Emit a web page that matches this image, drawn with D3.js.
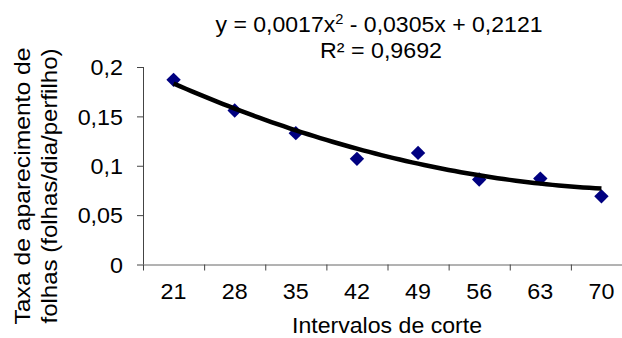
<!DOCTYPE html>
<html>
<head>
<meta charset="utf-8">
<script src="https://cdn.jsdelivr.net/npm/d3@7"></script>
<style>
    body { margin: 0; background: #fff; }
    text { font-family: "Liberation Sans", Arial, sans-serif; fill: #000; }
</style>
</head>
<body>
<div id="chart"></div>
<script>
// data
var intervals = ["21", "28", "35", "42", "49", "56", "63", "70"];
var rates = [0.187, 0.156, 0.133, 0.107, 0.113, 0.086, 0.087, 0.069];
// trendline y = c0 + c1*x + c2*x^2 (x = 1..8), as printed on the chart
var trendCoef = [0.2121, -0.0305, 0.0017];
var yTicks = [0, 0.05, 0.1, 0.15, 0.2];

var pwidth = 622;
var pheight = 338;
var plotLeft = 143, plotRight = 632, plotTop = 67, plotBottom = 264.5;
var fontSize = 22;

var svg = d3.select("#chart").append("svg")
    .attr("width", pwidth)
    .attr("height", pheight);

// x scale: one band per interval, plus a linear one for boundaries / trend
var xBand = d3.scaleBand()
    .domain(intervals)
    .range([plotLeft, plotRight]);

var xLin = d3.scaleLinear()
    .domain([0, intervals.length])
    .range([plotLeft, plotRight]);

var yScale = d3.scaleLinear()
    .domain([0, 0.2])
    .range([plotBottom, plotTop]);

function comma(d) { return String(d).replace(".", ","); }

// y axis
var yAxis = svg.append("g")
    .attr("transform", "translate(" + plotLeft + ",0)")
    .call(d3.axisLeft(yScale).tickValues(yTicks).tickSize(6).tickPadding(14).tickFormat(comma));
yAxis.select(".domain").attr("stroke", "#444").attr("d", "M0.5," + plotBottom + "V" + plotTop);
yAxis.selectAll(".tick line").attr("stroke", "#444");
yAxis.selectAll("text")
    .style("font-size", fontSize + "px")
    .attr("transform", "scale(1.06,1)")
    .attr("x", -20 / 1.06)
    .attr("dy", "0.35em");

// x axis line + boundary ticks
var xTicksAxis = svg.append("g")
    .attr("transform", "translate(0," + plotBottom + ")")
    .call(d3.axisBottom(xLin).ticks(intervals.length).tickSize(6).tickFormat(""));
xTicksAxis.select(".domain").attr("stroke", "#666").attr("d", "M" + plotLeft + ",0.5H" + plotRight);
xTicksAxis.selectAll(".tick line").attr("stroke", "#444");

// x labels at band centres
var xLabels = svg.append("g")
    .attr("transform", "translate(0," + plotBottom + ")")
    .call(d3.axisBottom(xBand).tickSize(0).tickPadding(19));
xLabels.select(".domain").remove();
xLabels.selectAll("text")
    .style("font-size", fontSize + "px")
    .attr("transform", "scale(1.06,1)")
    .attr("dy", "0.71em");

// points (diamonds)
var diamond = d3.symbol().type(d3.symbolSquare).size(104);
svg.append("g")
    .selectAll("path")
    .data(rates)
    .enter().append("path")
    .attr("d", diamond)
    .attr("fill", "#000080")
    .attr("transform", function(d, i) {
        return "translate(" + (xBand(intervals[i]) + xBand.bandwidth() / 2) + "," + yScale(d) + ") rotate(45)";
    });

// trendline from the printed coefficients
var trendX = d3.range(1, intervals.length + 0.001, 0.1);
var line = d3.line()
    .x(function(d) { return xLin(d - 0.5); })
    .y(function(d) { return yScale(trendCoef[0] + trendCoef[1] * d + trendCoef[2] * d * d); });
svg.append("path")
    .datum(trendX)
    .attr("d", line)
    .attr("fill", "none")
    .attr("stroke", "#000")
    .attr("stroke-width", 4.5);

// equation
var eq = svg.append("text")
    .attr("x", 379)
    .attr("y", 32)
    .attr("text-anchor", "middle")
    .attr("textLength", 327)
    .attr("lengthAdjust", "spacingAndGlyphs")
    .style("font-size", fontSize + "px");
eq.append("tspan").text("y = 0,0017x");
eq.append("tspan").attr("dy", -8).style("font-size", "14px").text("2");
eq.append("tspan").attr("dy", 8).text(" - 0,0305x + 0,2121");

svg.append("text")
    .attr("x", 381)
    .attr("y", 58)
    .attr("text-anchor", "middle")
    .attr("textLength", 122)
    .attr("lengthAdjust", "spacingAndGlyphs")
    .style("font-size", fontSize + "px")
    .text("R² = 0,9692");

// axis titles
svg.append("text")
    .attr("x", 387)
    .attr("y", 333)
    .attr("text-anchor", "middle")
    .attr("textLength", 190)
    .attr("lengthAdjust", "spacingAndGlyphs")
    .style("font-size", fontSize + "px")
    .text("Intervalos de corte");

var yTitle = [["Taxa de aparecimento de", 30, 277], ["folhas (folhas/dia/perfilho)", 57, 275]];
yTitle.forEach(function(t) {
    svg.append("text")
        .attr("transform", "translate(" + t[1] + ",186) rotate(-90)")
        .attr("text-anchor", "middle")
        .attr("textLength", t[2])
        .attr("lengthAdjust", "spacingAndGlyphs")
        .style("font-size", fontSize + "px")
        .text(t[0]);
});
</script>
</body>
</html>
